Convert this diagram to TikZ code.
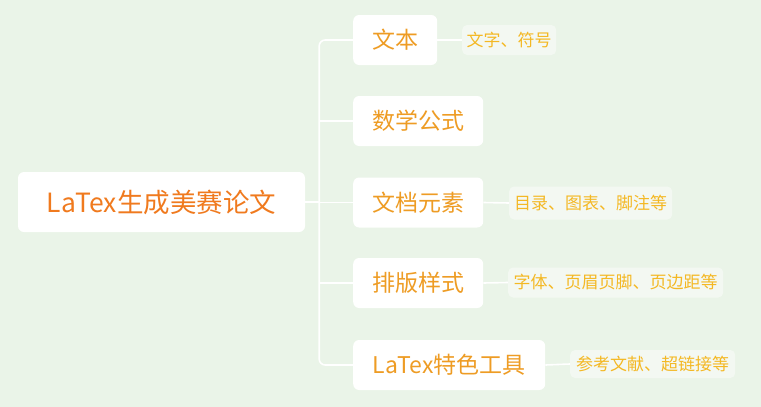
\documentclass[tikz,border=0pt]{standalone}
\usepackage{fontspec}
\setmainfont{Noto Sans CJK SC}
\usepackage{tikz}
\usetikzlibrary{positioning}

\definecolor{bgGreen}{RGB}{234,244,232}
\definecolor{rootOrange}{RGB}{240,122,30}
\definecolor{childOrange}{RGB}{238,156,36}
\definecolor{leafYellow}{RGB}{243,184,36}

\begin{document}
\begin{tikzpicture}[x=1pt,y=-1pt,
    block_root/.style ={rectangle, rounded corners=6pt, fill=white, draw=none,
      text=rootOrange, font=\fontsize{26.5}{30}\selectfont,
      minimum width=287pt, minimum height=60pt, inner sep=0pt},
    block_child/.style ={rectangle, rounded corners=6pt, fill=white, draw=none,
      text=childOrange, font=\fontsize{23}{26}\selectfont,
      minimum height=50pt, inner sep=0pt, anchor=west},
    block_leaf/.style ={rectangle, rounded corners=5pt, fill=white, fill opacity=0.45,
      text opacity=1, text=leafYellow, font=\fontsize{17}{20}\selectfont,
      minimum height=30pt, inner sep=0pt, anchor=west},
    line/.style ={draw=white, line width=1.6pt}]
    % background and page size
    \fill[bgGreen] (0,0) rectangle (761,407);
    \useasboundingbox (0,0) rectangle (761,407);
    % root
    \node[block_root] (root) at (161.5,202) {LaTex生成美赛论文};
    \coordinate[right=14pt of root.east] (trunk);
    % children
    \node[block_child, minimum width=84pt] (text) at (353,40) {文本};
    \node[block_child, minimum width=130pt] (math) at (353,121) {数学公式};
    \node[block_child, minimum width=130pt] (elements) at (353,202.5) {文档元素};
    \node[block_child, minimum width=130pt] (style) at (353,283) {排版样式};
    \node[block_child, minimum width=192pt] (tools) at (353,365) {LaTex特色工具};
    % leaves
    \node[block_leaf, minimum width=94pt] (text_leaf) at (462,40) {文字、符号};
    \node[block_leaf, minimum width=163pt, minimum height=33pt] (elements_leaf) at (509,203) {目录、图表、脚注等};
    \node[block_leaf, minimum width=215pt] (style_leaf) at (508,282.5) {字体、页眉页脚、页边距等};
    \node[block_leaf, minimum width=165pt, minimum height=28pt] (tools_leaf) at (570,364) {参考文献、超链接等};
    % connectors
    \draw[line, rounded corners=6pt] (text.west) -| (trunk) |- (tools.west);
    \draw[line] (root.east) -- (trunk);
    \foreach \child in {math,elements,style}
      \draw[line] (trunk |- \child.west) -- (\child.west);
    \foreach \child in {text,elements,style,tools}
      \draw[line] (\child.east) -- (\child_leaf.west);
\end{tikzpicture}
\end{document}
